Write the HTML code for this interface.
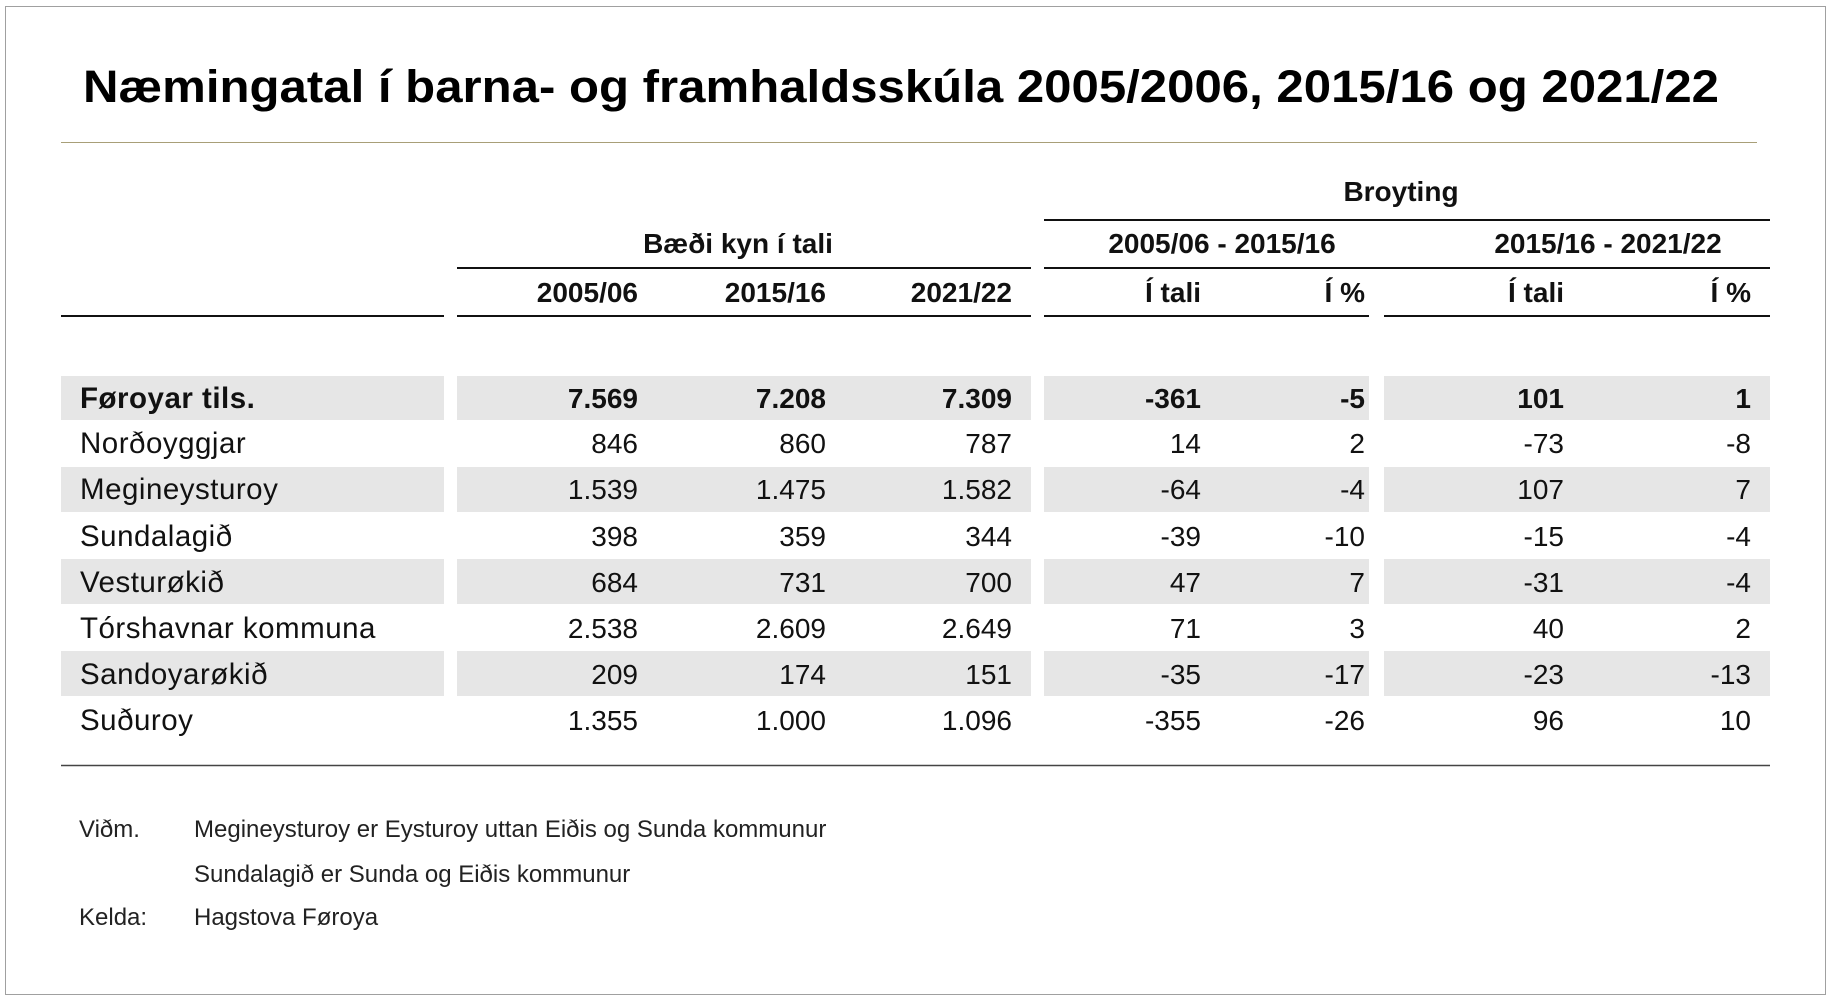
<!DOCTYPE html>
<html><head><meta charset="utf-8"><style>
html,body{margin:0;padding:0;background:#fff}
svg{display:block;font-family:"Liberation Sans",sans-serif}
</style></head><body>
<svg width="1837" height="1000" viewBox="0 0 1837 1000" xmlns="http://www.w3.org/2000/svg">
<rect x="5.5" y="6.5" width="1820" height="988" fill="#fff" stroke="#a0a0a0" stroke-width="1"/>
<text x="83" y="102" font-size="45" font-weight="bold" fill="#000" textLength="1636" lengthAdjust="spacingAndGlyphs">Næmingatal í barna- og framhaldsskúla 2005/2006, 2015/16 og 2021/22</text>
<line x1="61" y1="142.5" x2="1757" y2="142.5" stroke="#a89f78" stroke-width="1"/>
<g font-weight="bold" font-size="28" fill="#111">
<text x="1401" y="201" text-anchor="middle">Broyting</text>
<text x="738" y="253" text-anchor="middle">Bæði kyn í tali</text>
<text x="1222" y="253" text-anchor="middle">2005/06 - 2015/16</text>
<text x="1608" y="253" text-anchor="middle">2015/16 - 2021/22</text>
<g text-anchor="end">
<text x="638" y="302">2005/06</text><text x="826" y="302">2015/16</text><text x="1012" y="302">2021/22</text>
<text x="1201" y="302">Í tali</text><text x="1365" y="302">Í %</text>
<text x="1564" y="302">Í tali</text><text x="1751" y="302">Í %</text>
</g></g>
<g stroke="#111" stroke-width="2">
<line x1="1044" y1="220" x2="1770" y2="220"/>
<line x1="457" y1="268" x2="1031" y2="268"/>
<line x1="1044" y1="268" x2="1770" y2="268"/>
<line x1="61" y1="316" x2="444" y2="316"/>
<line x1="457" y1="316" x2="1031" y2="316"/>
<line x1="1044" y1="316" x2="1369" y2="316"/>
<line x1="1384" y1="316" x2="1770" y2="316"/>
</g>
<g fill="#e6e6e6">
<rect x="61" y="376" width="383" height="44"/><rect x="457" y="376" width="574" height="44"/><rect x="1044" y="376" width="325" height="44"/><rect x="1384" y="376" width="386" height="44"/>
<rect x="61" y="467" width="383" height="45"/><rect x="457" y="467" width="574" height="45"/><rect x="1044" y="467" width="325" height="45"/><rect x="1384" y="467" width="386" height="45"/>
<rect x="61" y="559" width="383" height="45"/><rect x="457" y="559" width="574" height="45"/><rect x="1044" y="559" width="325" height="45"/><rect x="1384" y="559" width="386" height="45"/>
<rect x="61" y="651" width="383" height="45"/><rect x="457" y="651" width="574" height="45"/><rect x="1044" y="651" width="325" height="45"/><rect x="1384" y="651" width="386" height="45"/>
</g>
<g font-size="28" fill="#111">
<g font-size="29.5" letter-spacing="0.5">
<text x="80" y="408" font-weight="bold">Føroyar tils.</text>
<text x="80" y="453">Norðoyggjar</text>
<text x="80" y="499">Megineysturoy</text>
<text x="80" y="546">Sundalagið</text>
<text x="80" y="592">Vesturøkið</text>
<text x="80" y="638">Tórshavnar kommuna</text>
<text x="80" y="684">Sandoyarøkið</text>
<text x="80" y="730">Suðuroy</text>
</g>
<g text-anchor="end">
<g font-weight="bold"><text x="638" y="408">7.569</text><text x="826" y="408">7.208</text><text x="1012" y="408">7.309</text><text x="1201" y="408">-361</text><text x="1365" y="408">-5</text><text x="1564" y="408">101</text><text x="1751" y="408">1</text></g>
<text x="638" y="453">846</text><text x="826" y="453">860</text><text x="1012" y="453">787</text><text x="1201" y="453">14</text><text x="1365" y="453">2</text><text x="1564" y="453">-73</text><text x="1751" y="453">-8</text>
<text x="638" y="499">1.539</text><text x="826" y="499">1.475</text><text x="1012" y="499">1.582</text><text x="1201" y="499">-64</text><text x="1365" y="499">-4</text><text x="1564" y="499">107</text><text x="1751" y="499">7</text>
<text x="638" y="546">398</text><text x="826" y="546">359</text><text x="1012" y="546">344</text><text x="1201" y="546">-39</text><text x="1365" y="546">-10</text><text x="1564" y="546">-15</text><text x="1751" y="546">-4</text>
<text x="638" y="592">684</text><text x="826" y="592">731</text><text x="1012" y="592">700</text><text x="1201" y="592">47</text><text x="1365" y="592">7</text><text x="1564" y="592">-31</text><text x="1751" y="592">-4</text>
<text x="638" y="638">2.538</text><text x="826" y="638">2.609</text><text x="1012" y="638">2.649</text><text x="1201" y="638">71</text><text x="1365" y="638">3</text><text x="1564" y="638">40</text><text x="1751" y="638">2</text>
<text x="638" y="684">209</text><text x="826" y="684">174</text><text x="1012" y="684">151</text><text x="1201" y="684">-35</text><text x="1365" y="684">-17</text><text x="1564" y="684">-23</text><text x="1751" y="684">-13</text>
<text x="638" y="730">1.355</text><text x="826" y="730">1.000</text><text x="1012" y="730">1.096</text><text x="1201" y="730">-355</text><text x="1365" y="730">-26</text><text x="1564" y="730">96</text><text x="1751" y="730">10</text>
</g>
</g>
<line x1="61" y1="765.5" x2="1770" y2="765.5" stroke="#444" stroke-width="1.5"/>
<g font-size="24" fill="#222">
<text x="79" y="837">Viðm.</text>
<text x="194" y="837">Megineysturoy er Eysturoy uttan Eiðis og Sunda kommunur</text>
<text x="194" y="882">Sundalagið er Sunda og Eiðis kommunur</text>
<text x="79" y="925">Kelda:</text>
<text x="194" y="925">Hagstova Føroya</text>
</g>
</svg>
</body></html>
